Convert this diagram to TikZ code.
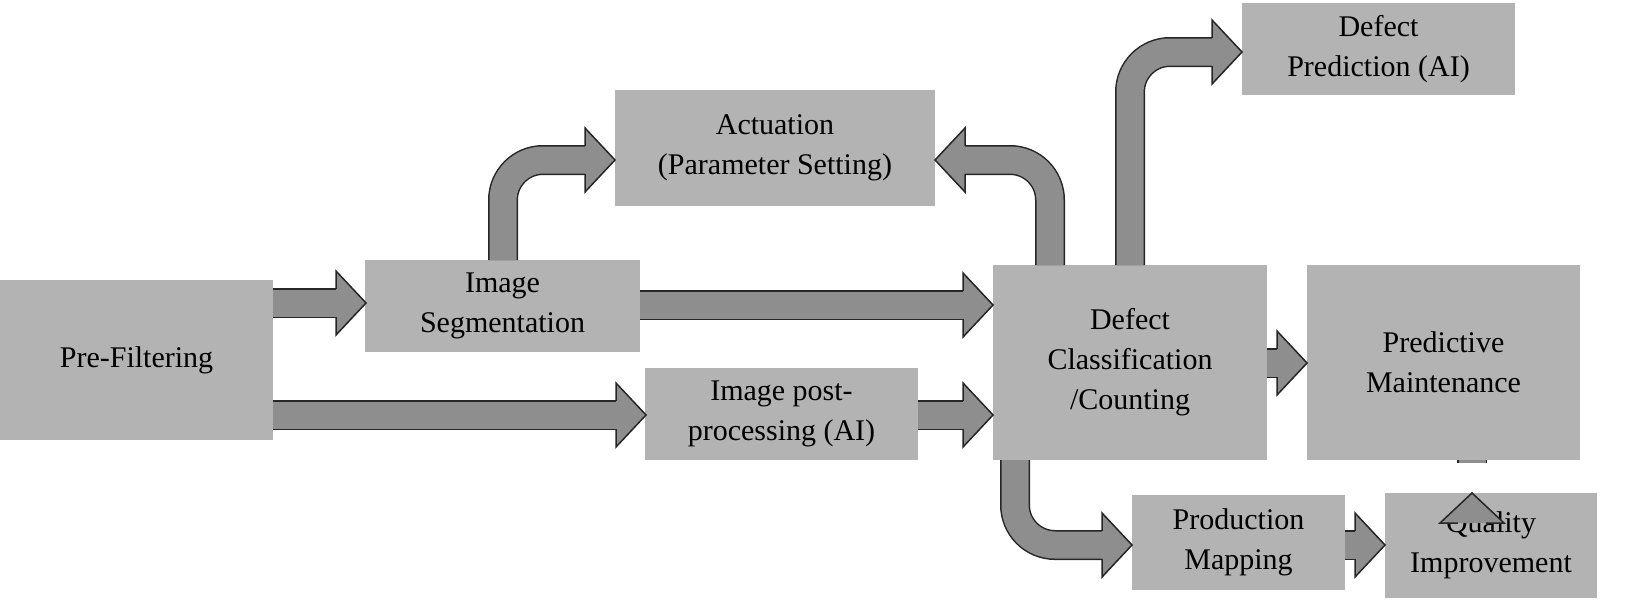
\documentclass[tikz,border=0pt]{standalone}
\usepackage{fontspec}
\setmainfont{Liberation Serif}
\begin{document}
\begin{tikzpicture}[x=1pt,y=-1pt,
  box/.style={fill=boxgray,inner sep=0pt,align=center,font=\fontsize{30}{40}\selectfont},
  sb/.style={line width=30pt,draw=black!85},
  sf/.style={line width=27pt,draw=arrgray},
  hf/.style={fill=arrgray},
  hb/.style={draw=black!85,line width=1.5pt,line join=miter}]
\definecolor{boxgray}{HTML}{B3B3B3}
\definecolor{arrgray}{HTML}{8E8E8E}
\newcommand\ahead[3]{\begin{scope}[shift={(#1,#2)},rotate=#3]
 \fill[hf] (0.5,0)--(-30,32)--(-30,-32)--cycle;
 \draw[hb] (-30,14.2)--(-30,32)--(0,0)--(-30,-32)--(-30,-14.2);\end{scope}}
\newcommand\shaft[1]{\draw[sb,rounded corners=40pt] #1; \draw[sf,rounded corners=40pt] #1;}
\useasboundingbox (0,0) rectangle (1629,600);
\node[box,minimum width=273pt,minimum height=160pt] (pre) at (136.5,360) {Pre-Filtering};
\node[box,minimum width=275pt,minimum height=92pt] (seg) at (502.5,306) {Image\\Segmentation};
\node[box,minimum width=320pt,minimum height=116pt] (act) at (775,148) {Actuation\\(Parameter Setting)};
\node[box,minimum width=273pt,minimum height=92pt] (post) at (781.5,414) {Image post-\\processing (AI)};
\node[box,minimum width=274pt,minimum height=195pt] (dc) at (1130,362.5) {Defect\\Classification\\/Counting};
\node[box,minimum width=273pt,minimum height=92pt] (dp) at (1378.5,49) {Defect\\Prediction (AI)};
\node[box,minimum width=273pt,minimum height=195pt] (pm) at (1443.5,362.5) {Predictive\\Maintenance};
\node[box,minimum width=213pt,minimum height=95pt] (prod) at (1238.5,542.5) {Production\\Mapping};
\node[box,minimum width=212pt,minimum height=105pt] (qi) at (1491,545.5) {Quality\\Improvement};
% straight arrows
\shaft{(273,303)--(336,303)} \ahead{366}{303}{0}
\shaft{(273,415)--(616,415)} \ahead{646}{415}{0}
\shaft{(640,305)--(963,305)} \ahead{993}{305}{0}
\shaft{(918,415)--(963,415)} \ahead{993}{415}{0}
\shaft{(1267,363)--(1277,363)} \ahead{1307}{363}{0}
\shaft{(1345,545)--(1355,545)} \ahead{1385}{545}{0}
\shaft{(1472,460)--(1472,463)} \ahead{1472}{493}{90}
% bent arrows
\shaft{(503,260)--(503,160)--(585,160)} \ahead{615}{160}{0}
\shaft{(1050,265)--(1050,160)--(965,160)} \ahead{935}{160}{180}
\shaft{(1130,265)--(1130,52)--(1212,52)} \ahead{1242}{52}{0}
\shaft{(1015,460)--(1015,545)--(1102,545)} \ahead{1132}{545}{0}
\end{tikzpicture}
\end{document}
